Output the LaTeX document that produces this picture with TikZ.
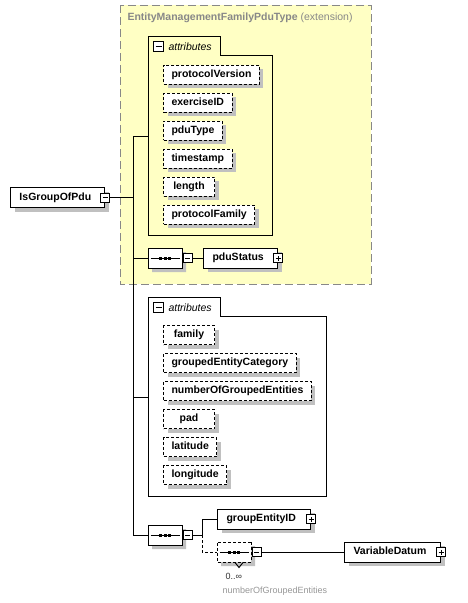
\documentclass[tikz,border=0pt]{standalone}
\usepackage{fontspec}
\setmainfont{Liberation Sans}
\usetikzlibrary{shapes.misc,shadows}

\definecolor{extfill}{RGB}{255,255,196}
\definecolor{extline}{RGB}{136,136,136}
\definecolor{shadowgray}{RGB}{192,192,192}
\definecolor{notegray}{RGB}{150,150,150}

\newcommand{\dgfont}{\fontsize{10.5}{12}\selectfont}
\newcommand{\notefont}{\fontsize{9}{10}\selectfont}

\tikzset{
  boxshadow/.style={drop shadow={shadow xshift=4pt, shadow yshift=-4pt, fill=shadowgray, opacity=1}},
  elem/.style={draw, fill=white, font=\dgfont\bfseries, anchor=west, align=left,
    minimum height=20pt, inner xsep=9pt, inner ysep=0pt, text height=1.5ex, text depth=.4ex, boxshadow},
  attrbox/.style={draw, dash pattern=on 3pt off 2pt, fill=white, font=\dgfont\bfseries, anchor=west,
    minimum height=19pt, minimum width=51pt, inner xsep=8pt, inner ysep=0pt, text height=1.5ex, text depth=.4ex, boxshadow},
  seqbox/.style={chamfered rectangle, chamfered rectangle xsep=6pt, chamfered rectangle ysep=6pt,
    draw, fill=white, minimum width=34pt, minimum height=20pt, inner sep=0pt, boxshadow},
  minusbox/.style={draw, fill=white, minimum size=9pt, inner sep=0pt,
    path picture={\draw ([xshift=2pt]path picture bounding box.west) -- ([xshift=-2pt]path picture bounding box.east);}},
  plusbox/.style={draw, fill=white, minimum size=9pt, inner sep=0pt,
    path picture={\draw ([xshift=2pt]path picture bounding box.west) -- ([xshift=-2pt]path picture bounding box.east);
      \draw ([yshift=2pt]path picture bounding box.south) -- ([yshift=-2pt]path picture bounding box.north);}},
}

\begin{document}
\begin{tikzpicture}[x=1pt, y=-1pt, line width=1pt]
    \useasboundingbox (0,0) rectangle (467,603);

    % extension base type
    \draw[extline, fill=extfill, dash pattern=on 8pt off 4pt] (120,5) rectangle (371,284);
    \node[anchor=west, text=extline, font=\dgfont, inner sep=0pt] (ext) at (127,18) {\textbf{EntityManagementFamilyPduType} (extension)};

    % first attribute group
    \draw (148,36) -- (220,36) -- (220,55) -- (272,55) -- (272,235) -- (148,235) -- cycle;
    \node[minusbox, minimum size=10pt] (att1x) at (158.5,46.5) {};
    \node[anchor=west, font=\dgfont\itshape, inner xsep=4pt] at (att1x.east) {attributes};

    \node[attrbox] (pv) at (163,74.5) {protocolVersion};
    \node[attrbox] (ex) at (163,102.5) {exerciseID};
    \node[attrbox] (pt) at (163,130.5) {pduType};
    \node[attrbox] (ts) at (163,158.5) {timestamp};
    \node[attrbox] (ln) at (163,186.5) {length};
    \node[attrbox] (pf) at (163,214.5) {protocolFamily};

    % second attribute group
    \draw (148,297) -- (220,297) -- (220,316) -- (326,316) -- (326,496) -- (148,496) -- cycle;
    \node[minusbox, minimum size=10pt] (att2x) at (158.5,307.5) {};
    \node[anchor=west, font=\dgfont\itshape, inner xsep=4pt] at (att2x.east) {attributes};

    \node[attrbox] (fa) at (163,335) {family};
    \node[attrbox] (gc) at (163,363) {groupedEntityCategory};
    \node[attrbox] (ng) at (163,391) {numberOfGroupedEntities};
    \node[attrbox] (pd) at (163,419) {pad};
    \node[attrbox] (la) at (163,447) {latitude};
    \node[attrbox] (lo) at (163,475) {longitude};

    % elements and compositors
    \node[elem, text width=76pt] (grp) at (10,197.5) {IsGroupOfPdu};
    \node[minusbox] (grpx) at (grp.east) {};

    \node[seqbox] (seq1) at (165,258) {};
    \node[minusbox, anchor=west] (seq1x) at (seq1.east) {};
    \node[elem, text width=56pt] (ps) at (203,258) {pduStatus};
    \node[plusbox] (psx) at (ps.east) {};

    \node[seqbox] (seq2) at (165,535) {};
    \node[minusbox, anchor=west] (seq2x) at (seq2.east) {};
    \node[elem, text width=75pt] (gid) at (217,519) {groupEntityID};
    \node[plusbox] (gidx) at (gid.east) {};

    \node[seqbox, dash pattern=on 3pt off 2pt] (rep) at (234,552) {};
    \node[minusbox, anchor=west] (repx) at (rep.east) {};
    \node[elem, text width=78pt] (vd) at (344,552) {VariableDatum};
    \node[plusbox] (vdx) at (vd.east) {};

    \foreach \s in {seq1,seq2,rep} {
      \draw ([xshift=3pt]\s.west) -- ([xshift=-3pt]\s.east);
      \foreach \d in {-4.5,0,4.5}
        \fill ([xshift=\d pt]\s.center) +(-1.5,-1.5) rectangle +(1.5,1.5);
    }
    \draw ([xshift=1pt]rep.south) -- ++(4,5) -- ++(4,-5);

    \node[font=\notefont, text=black!80, anchor=west, inner sep=0pt] (occ) at (225,576) {0..∞};
    \node[font=\notefont, text=notegray, anchor=west, inner sep=0pt] (occname) at (222,591) {numberOfGroupedEntities};

    % connectors
    \coordinate (att1) at (148,136);
    \coordinate (att2) at (148,397);
    \coordinate (tr) at (133,0);
    \coordinate (fk) at (202,0);

    \draw (grpx.east) -- (grpx.east -| tr);
    \draw (att1) -- (att1 -| tr) -- (seq2.west -| tr) -- (seq2.west);
    \draw (seq1.west -| tr) -- (seq1.west);
    \draw (att2 -| tr) -- (att2);
    \draw (seq1x.east) -- (ps.west);
    \draw (seq2x.east) -- (seq2x.east -| fk) |- (gid.west);
    \draw[dash pattern=on 3pt off 2pt] (seq2x.east -| fk) |- (rep.west);
    \draw (repx.east) -- (vd.west);

\end{tikzpicture}
\end{document}
